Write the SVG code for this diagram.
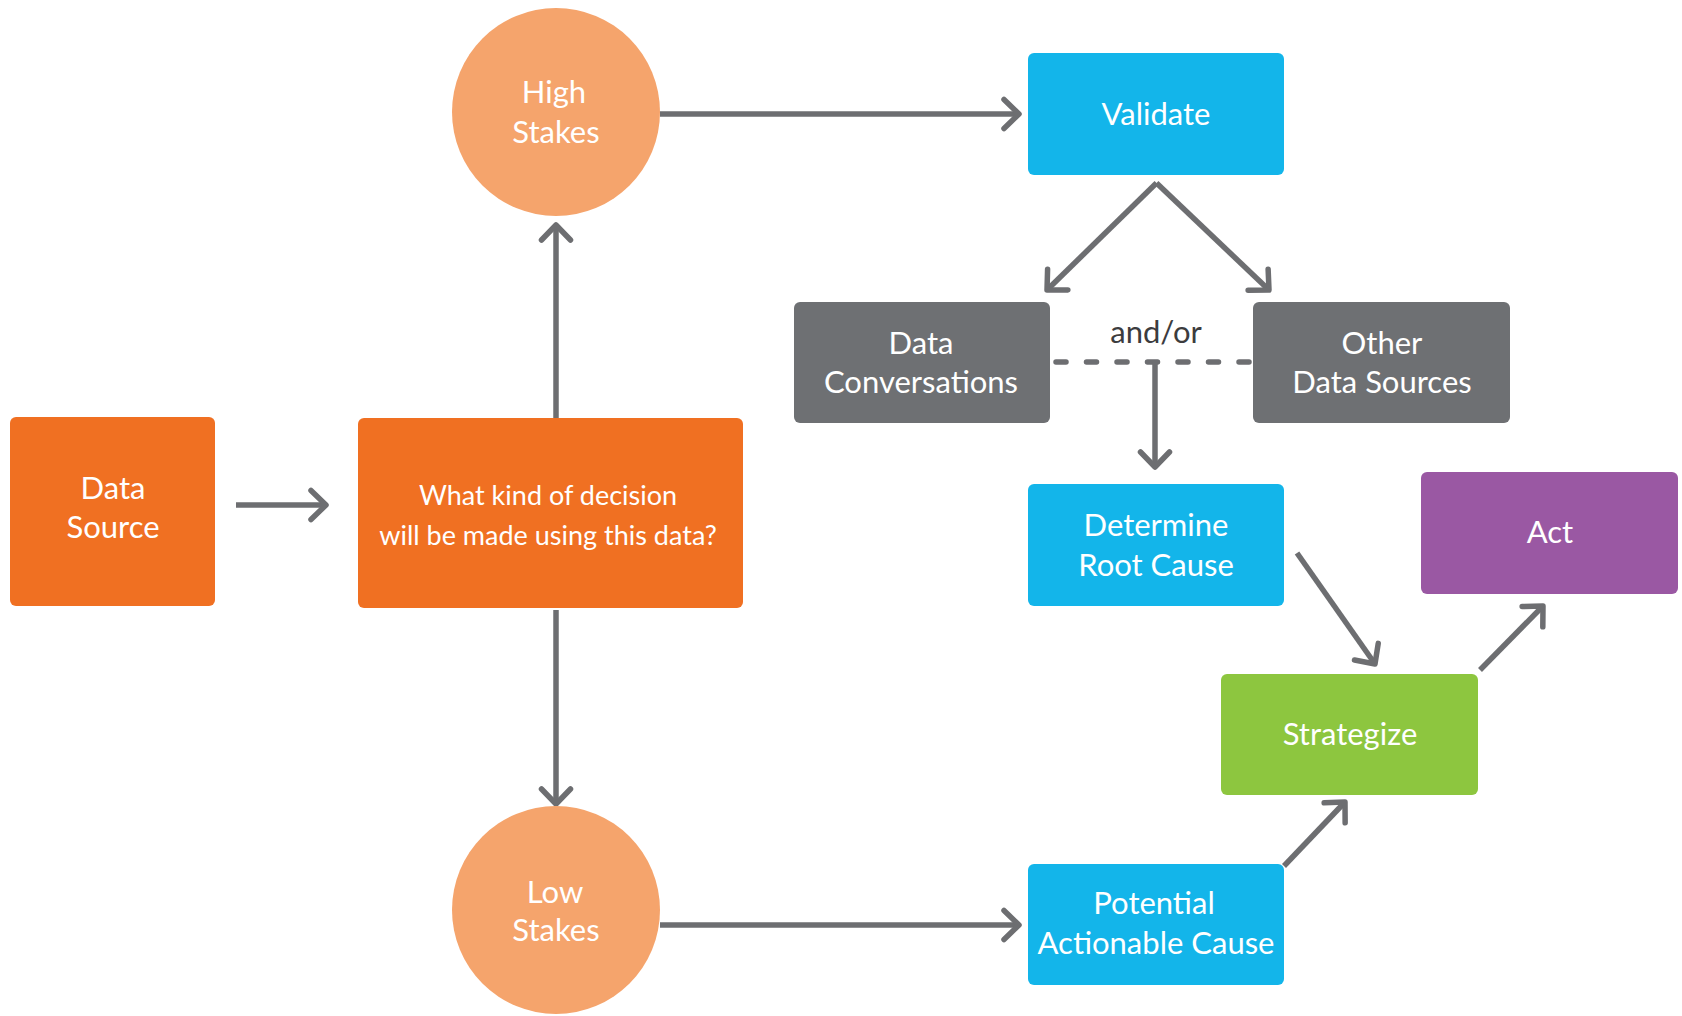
<svg xmlns="http://www.w3.org/2000/svg" width="1682" height="1016" viewBox="0 0 1682 1016">
<defs>
<style>
.t{font-family:Lato,"Open Sans","Liberation Sans",sans-serif;font-size:31px;fill:#ffffff;text-anchor:middle}
.q{font-size:27px}
.dk{fill:#3c3c3e}
.c{fill:none;stroke:#6d6e71;stroke-width:5.5;marker-end:url(#ah)}
.orange{fill:#f07022}
.circ{fill:#f5a46c}
.blue{fill:#13b5ea}
.gray{fill:#6e7073}
.purple{fill:#9a58a3}
.green{fill:#8dc63f}
</style>
<marker id="ah" markerUnits="userSpaceOnUse" viewBox="-20 -20 25 40" refX="0" refY="0" markerWidth="25" markerHeight="40" orient="auto" overflow="visible">
<path d="M-15,-14.5 L0,0 L-15,14.5" fill="none" stroke="#6d6e71" stroke-width="5.5" stroke-linecap="round" stroke-linejoin="round"/>
</marker>
</defs>
<rect width="1682" height="1016" fill="#ffffff"/>
<g id="connectors">
<path class="c" d="M236,505 L326,505"/>
<path class="c" d="M556,418 L556,225"/>
<path class="c" d="M556,610 L556,804"/>
<path class="c" d="M660,114 L1019,114"/>
<path class="c" d="M660,925 L1019,925"/>
<path class="c" d="M1156.5,183 L1047,290"/>
<path class="c" d="M1156.5,183 L1269,290"/>
<path d="M1056,362 L1249,362" fill="none" stroke="#6d6e71" stroke-width="5.5" stroke-dasharray="10 20.5" stroke-linecap="round"/>
<path class="c" d="M1155,362 L1155,467"/>
<path class="c" d="M1297,553 L1375,664"/>
<path class="c" d="M1480,670 L1543,606"/>
<path class="c" d="M1284,866 L1345,802"/>
</g>
<g id="data-source">
<rect class="orange" x="10" y="417" width="205" height="189" rx="6"/>
<text class="t" x="113" y="499">Data</text>
<text class="t" x="113" y="538">Source</text>
</g>
<g id="decision">
<rect class="orange" x="358" y="418" width="385" height="190" rx="6"/>
<text class="t q" x="548" y="505">What kind of decision</text>
<text class="t q" x="548" y="545">will be made using this data?</text>
</g>
<g id="high-stakes">
<circle class="circ" cx="556" cy="112" r="104"/>
<text class="t" x="554" y="103">High</text>
<text class="t" x="556" y="143">Stakes</text>
</g>
<g id="low-stakes">
<circle class="circ" cx="556" cy="910" r="104"/>
<text class="t" x="555" y="903">Low</text>
<text class="t" x="556" y="941">Stakes</text>
</g>
<g id="validate">
<rect class="blue" x="1028" y="53" width="256" height="122" rx="6"/>
<text class="t" x="1156" y="125">Validate</text>
</g>
<g id="data-conversations">
<rect class="gray" x="794" y="302" width="256" height="121" rx="6"/>
<text class="t" x="921" y="354">Data</text>
<text class="t" x="921" y="393">Conversations</text>
</g>
<g id="and-or">
<text class="t dk" x="1156" y="343">and/or</text>
</g>
<g id="other-data-sources">
<rect class="gray" x="1253" y="302" width="257" height="121" rx="6"/>
<text class="t" x="1382" y="354">Other</text>
<text class="t" x="1382" y="393">Data Sources</text>
</g>
<g id="determine-root-cause">
<rect class="blue" x="1028" y="484" width="256" height="122" rx="6"/>
<text class="t" x="1156" y="536">Determine</text>
<text class="t" x="1156" y="576">Root Cause</text>
</g>
<g id="act">
<rect class="purple" x="1421" y="472" width="257" height="122" rx="6"/>
<text class="t" x="1550" y="543">Act</text>
</g>
<g id="strategize">
<rect class="green" x="1221" y="674" width="257" height="121" rx="6"/>
<text class="t" x="1350" y="745">Strategize</text>
</g>
<g id="potential-actionable-cause">
<rect class="blue" x="1028" y="864" width="256" height="121" rx="6"/>
<text class="t" x="1154" y="914">Potential</text>
<text class="t" x="1156" y="954">Actionable Cause</text>
</g>
</svg>
